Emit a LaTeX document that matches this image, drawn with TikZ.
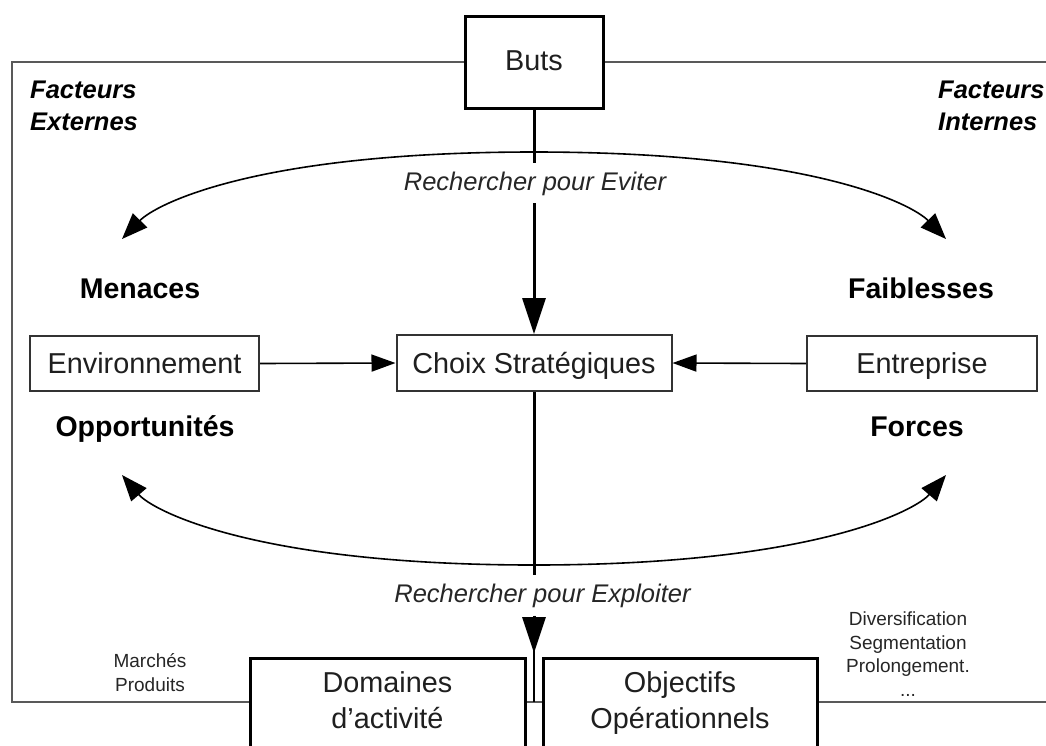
\documentclass[tikz,border=0pt]{standalone}
\usepackage{fontspec}
\setmainfont{Liberation Sans}
\usetikzlibrary{arrows.meta,calc}

\begin{document}
\begin{tikzpicture}[x=1pt,y=-1pt,
  boxtxt/.style={font=\fontsize{28.8}{36}\selectfont, text=black!88},
  box/.style={draw=black!80, line width=2pt, fill=white, inner sep=0pt, boxtxt,
              text height=21pt, text depth=1pt},
  heavybox/.style={draw=black, line width=3pt, fill=white, inner sep=0pt, boxtxt},
  swot/.style={font=\bfseries\fontsize{28.5}{34}\selectfont, inner sep=0pt, anchor=base},
  factor/.style={font=\bfseries\itshape\fontsize{25.5}{32}\selectfont, align=left,
                 anchor=north west, inner sep=0pt},
  note/.style={font=\fontsize{19}{23.5}\selectfont, align=center, text=black!85,
               inner sep=0pt, anchor=north},
  search/.style={font=\itshape\fontsize{25.5}{30}\selectfont, text=black!85,
                 inner xsep=0pt, inner ysep=8pt, anchor=base},
  frame/.style={draw=black!65, line width=2pt},
  feed/.style={line width=3pt, draw=black},
  bigtip/.style={-{Triangle[length=36pt,width=23pt]}},
  sidetip/.style={-{Triangle[length=24pt,width=17pt]}},
  loop/.style={line width=1.6pt,
               {Triangle[length=26pt,width=20pt]}-{Triangle[length=26pt,width=20pt]}}
]
\useasboundingbox (0,0) rectangle (1046,745);
\clip (0,0) rectangle (1046,745);
\fill[white] (0,0) rectangle (1046,745);

% surrounding frame (open towards the right)
\draw[frame] (1070,62) -| (12,702) -- (1070,702);

% main boxes
\node[heavybox, minimum width=138, minimum height=92, text height=21pt, text depth=4pt] (buts) at (534,62) {Buts};
\node[box, minimum width=275, minimum height=56] (choix) at (534,363) {Choix Stratégiques};
\node[box, minimum width=229, minimum height=55] (env) at (144.5,363.5) {Environnement};
\node[box, minimum width=230, minimum height=55] (ent) at (922,363.5) {Entreprise};

% bottom boxes, running off the lower edge
\node[heavybox, minimum width=275, minimum height=140, anchor=north] (dom) at (387.5,657) {};
\node[heavybox, minimum width=274, minimum height=140, anchor=north] (obj) at (680,657) {};
\node[boxtxt, align=center, inner sep=0pt, anchor=north] (domtext) at (387.5,671) {Domaines\\d'activité};
\node[boxtxt, align=center, inner sep=0pt, anchor=north] (objtext) at (680,671) {Objectifs\\Opérationnels};

% side headings
\node[factor] (ext) at (30,81) {Facteurs\\Externes};
\node[factor] (int) at (938,81) {Facteurs\\Internes};

% SWOT labels
\node[swot] (men) at (140,298) {Menaces};
\node[swot] (fai) at (921,298) {Faiblesses};
\node[swot] (opp) at (145,436) {Opportunités};
\node[swot] (for) at (917,436) {Forces};

% small notes
\node[note] (mp) at (150,653.5) {Marchés\\Produits};
\node[note] (dsp) at (908,612) {Diversification\\Segmentation\\Prolongement.\\...};

% search labels on the vertical axis
\node[search] (eviter) at (535,190) {Rechercher pour Eviter};
\node[search] (explo) at (542.5,602) {Rechercher pour Exploiter};

% loops between the two sides
\coordinate (evL) at (122,239);
\coordinate (evR) at (946,239);
\coordinate (exL) at (122,475);
\coordinate (exR) at (946,475);
\draw[loop] (evL) .. controls (155,205) and (253,152) .. (534,152)
                  .. controls (815,152) and (913,205) .. (evR);
\draw[loop] (exL) .. controls (152,510) and (253,565) .. (534,565)
                  .. controls (815,565) and (916,510) .. (exR);

% vertical flow
\draw[feed] (buts.south) -- (buts.south |- eviter.north);
\draw[feed, bigtip] (buts.south |- eviter.south) -- (choix.north);
\draw[feed] (choix.south) -- (choix.south |- explo.north);
\coordinate (gapend) at (534,702);
\draw[line width=1.5pt] (choix.south |- explo.south) -- (gapend);
\draw[feed, bigtip, shorten >=4pt] (choix.south |- explo.south) -- (choix.south |- dom.north);

% horizontal inputs
\draw[line width=1.6pt, sidetip] (env.east) -- (choix.west);
\draw[line width=1.6pt, sidetip] (ent.west) -- (choix.east);
\end{tikzpicture}
\end{document}
